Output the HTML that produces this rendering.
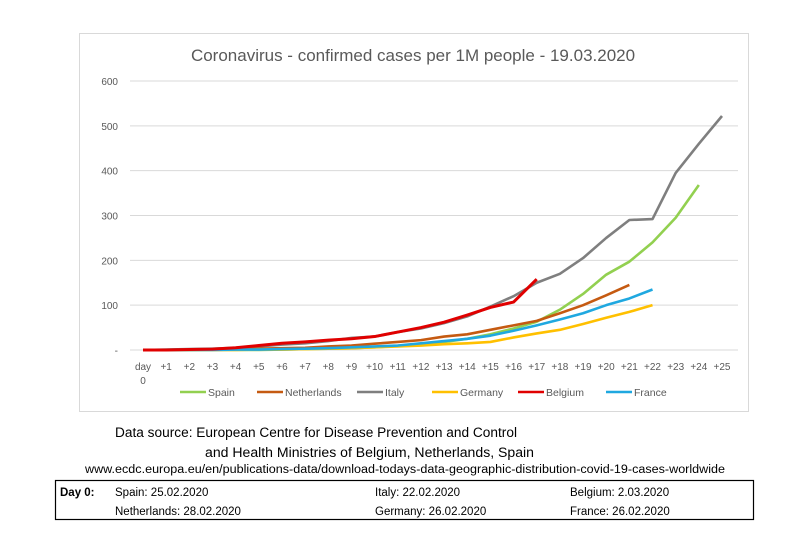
<!DOCTYPE html>
<html><head><meta charset="utf-8"><style>
body{margin:0;background:#fff;font-family:"Liberation Sans",sans-serif;}
svg text{font-family:"Liberation Sans",sans-serif;}
</style></head><body>
<svg id="s" width="810" height="544" viewBox="0 0 810 544" xmlns="http://www.w3.org/2000/svg">
<rect x="0" y="0" width="810" height="544" fill="#fff"/>
<rect x="79.5" y="33.5" width="669" height="378" fill="#fff" stroke="#d9d9d9"/>
<text x="413" y="61" text-anchor="middle" font-size="17" fill="#595959">Coronavirus - confirmed cases per 1M people - 19.03.2020</text>
<g id="grid"></g><g id="lines"></g><g id="legend"></g>
<text x="115" y="437" font-size="13.5" fill="#000" textLength="402" lengthAdjust="spacingAndGlyphs">Data source: European Centre for Disease Prevention and Control</text>
<text x="205" y="457" font-size="13.5" fill="#000" textLength="329" lengthAdjust="spacingAndGlyphs">and Health Ministries of Belgium, Netherlands, Spain</text>
<text x="85" y="473" font-size="11.5" fill="#000" textLength="640" lengthAdjust="spacingAndGlyphs">www.ecdc.europa.eu/en/publications-data/download-todays-data-geographic-distribution-covid-19-cases-worldwide</text>
<rect x="55.5" y="480.5" width="698" height="39" fill="none" stroke="#000" stroke-width="1.2"/>
<g font-size="11.5" fill="#000">
<text x="60" y="496" font-weight="bold">Day 0:</text>
<text x="115" y="496">Spain: 25.02.2020</text>
<text x="375" y="496">Italy: 22.02.2020</text>
<text x="570" y="496">Belgium: 2.03.2020</text>
<text x="115" y="515">Netherlands: 28.02.2020</text>
<text x="375" y="515">Germany: 26.02.2020</text>
<text x="570" y="515">France: 26.02.2020</text>
</g>
</svg>
<script>
const days=["day","+1","+2","+3","+4","+5","+6","+7","+8","+9","+10","+11","+12","+13","+14","+15","+16","+17","+18","+19","+20","+21","+22","+23","+24","+25"];
const yTicks=[0,100,200,300,400,500,600];
const seriesNames=["Spain","Netherlands","Italy","Germany","Belgium","France"];
const seriesColors=["#92d050","#c55a11","#7f7f7f","#ffc000","#e00000","#1fa8e0"];
const spain=[0,0,0,0,0,0,1,2,3,4,6,9,12,18,25,35,48,63,90,125,168,197,240,295,368];
const netherlands=[0,0,0,1,2,3,4,5,8,10,14,18,22,30,35,45,55,65,82,100,122,145];
const italy=[0,1,2,3,5,8,12,15,20,27,30,40,48,60,75,97,120,150,170,205,250,290,292,395,460,522];
const germany=[0,0,0,0,0,1,1,2,3,4,6,8,10,13,15,18,28,37,45,58,72,85,100];
const belgium=[0,0,1,2,5,10,15,18,22,25,30,40,50,62,78,95,107,158];
const france=[0,0,0,0,1,1,2,3,4,6,8,10,15,20,25,32,43,55,68,82,100,115,135];
const data=[spain,netherlands,italy,germany,belgium,france];
const NS="http://www.w3.org/2000/svg";
const x=i=>143+i*23.16, y=v=>350-v*0.4483;
const g=document.getElementById('grid');
function mk(t,a,p){const e=document.createElementNS(NS,t);for(const k in a)e.setAttribute(k,a[k]);p.appendChild(e);return e;}
yTicks.forEach(v=>{
 const l=mk('line',{x1:130,x2:738,y1:y(v),y2:y(v),stroke:'#d9d9d9'},g);
 
 
 const t=mk('text',{x:118,y:y(v)+4,'text-anchor':'end','font-size':10,fill:'#595959'},g);
 t.textContent=v===0?'-':v;
 
 
});
days.forEach((d,i)=>{
 const t=mk('text',{x:x(i),y:370,'text-anchor':'middle','font-size':10,fill:'#595959'},g);
 t.textContent=d;
 
 
});
const t0=mk('text',{x:x(0),y:384,'text-anchor':'middle','font-size':10,fill:'#595959'},g);
t0.textContent='0';


const lg=document.getElementById('lines');
const order=[2,0,1,3,5,4];
order.forEach(si=>{
 const pts=data[si].map((v,i)=>x(i)+','+y(v)).join(' ');
 const p=mk('polyline',{points:pts,fill:'none',stroke:seriesColors[si],'stroke-width':si===4?3:2.6,'stroke-linejoin':'round'},lg);
 
 
});
const leg=document.getElementById('legend');
const lx=[180,257,357,432,518,606];
seriesNames.forEach((n,i)=>{
 const l=mk('line',{x1:lx[i],x2:lx[i]+26,y1:392,y2:392,stroke:seriesColors[i],'stroke-width':2.6},leg);
 
 
 const t=mk('text',{x:lx[i]+28,y:396,'font-size':10.5,fill:'#595959'},leg);
 t.textContent=n;
 
 
});
</script>
</body></html>
